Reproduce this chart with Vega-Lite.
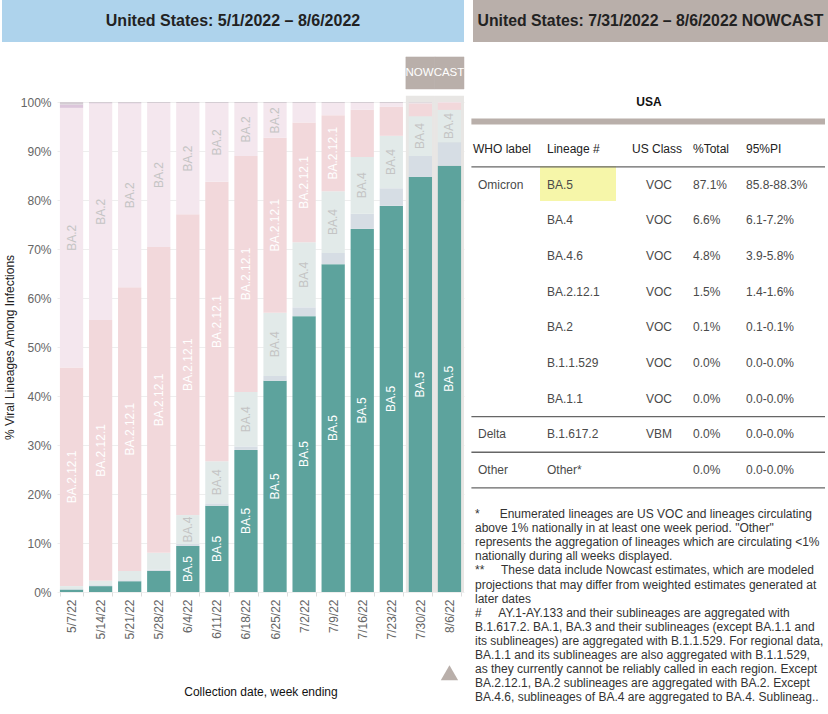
{
  "$schema": "https://vega.github.io/schema/vega-lite/v6.json",
  "padding": {"left": 2, "top": 0, "right": 0, "bottom": 0},
  "background": "white",
  "config": {"font": "Liberation Sans", "view": {"stroke": null}},
  "datasets": {
    "lineages": [
      {"week": "5/7/22", "lineage": "BA.5", "pct": 0.5}, {"week": "5/7/22", "lineage": "BA.4.6", "pct": 0.1}, {"week": "5/7/22", "lineage": "BA.4", "pct": 0.6}, {"week": "5/7/22", "lineage": "BA.2.12.1", "pct": 44.6}, {"week": "5/7/22", "lineage": "BA.2", "pct": 53.0}, {"week": "5/7/22", "lineage": "BA.1.1", "pct": 0.7}, {"week": "5/7/22", "lineage": "Other", "pct": 0.5},
      {"week": "5/14/22", "lineage": "BA.5", "pct": 1.2}, {"week": "5/14/22", "lineage": "BA.4.6", "pct": 0.2}, {"week": "5/14/22", "lineage": "BA.4", "pct": 0.9}, {"week": "5/14/22", "lineage": "BA.2.12.1", "pct": 53.2}, {"week": "5/14/22", "lineage": "BA.2", "pct": 44.2}, {"week": "5/14/22", "lineage": "BA.1.1", "pct": 0.1}, {"week": "5/14/22", "lineage": "Other", "pct": 0.2},
      {"week": "5/21/22", "lineage": "BA.5", "pct": 2.2}, {"week": "5/21/22", "lineage": "BA.4.6", "pct": 0.2}, {"week": "5/21/22", "lineage": "BA.4", "pct": 1.9}, {"week": "5/21/22", "lineage": "BA.2.12.1", "pct": 57.9}, {"week": "5/21/22", "lineage": "BA.2", "pct": 37.5}, {"week": "5/21/22", "lineage": "BA.1.1", "pct": 0.1}, {"week": "5/21/22", "lineage": "Other", "pct": 0.2},
      {"week": "5/28/22", "lineage": "BA.5", "pct": 4.3}, {"week": "5/28/22", "lineage": "BA.4.6", "pct": 0.3}, {"week": "5/28/22", "lineage": "BA.4", "pct": 3.4}, {"week": "5/28/22", "lineage": "BA.2.12.1", "pct": 62.4}, {"week": "5/28/22", "lineage": "BA.2", "pct": 29.4}, {"week": "5/28/22", "lineage": "Other", "pct": 0.2},
      {"week": "6/4/22", "lineage": "BA.5", "pct": 9.4}, {"week": "6/4/22", "lineage": "BA.4.6", "pct": 0.4}, {"week": "6/4/22", "lineage": "BA.4", "pct": 5.9}, {"week": "6/4/22", "lineage": "BA.2.12.1", "pct": 61.4}, {"week": "6/4/22", "lineage": "BA.2", "pct": 22.7}, {"week": "6/4/22", "lineage": "Other", "pct": 0.2},
      {"week": "6/11/22", "lineage": "BA.5", "pct": 17.6}, {"week": "6/11/22", "lineage": "BA.4.6", "pct": 0.5}, {"week": "6/11/22", "lineage": "BA.4", "pct": 8.6}, {"week": "6/11/22", "lineage": "BA.2.12.1", "pct": 57.0}, {"week": "6/11/22", "lineage": "BA.2", "pct": 16.1}, {"week": "6/11/22", "lineage": "Other", "pct": 0.2},
      {"week": "6/18/22", "lineage": "BA.5", "pct": 29.0}, {"week": "6/18/22", "lineage": "BA.4.6", "pct": 0.7}, {"week": "6/18/22", "lineage": "BA.4", "pct": 11.1}, {"week": "6/18/22", "lineage": "BA.2.12.1", "pct": 48.2}, {"week": "6/18/22", "lineage": "BA.2", "pct": 10.8}, {"week": "6/18/22", "lineage": "Other", "pct": 0.2},
      {"week": "6/25/22", "lineage": "BA.5", "pct": 43.1}, {"week": "6/25/22", "lineage": "BA.4.6", "pct": 1.0}, {"week": "6/25/22", "lineage": "BA.4", "pct": 12.9}, {"week": "6/25/22", "lineage": "BA.2.12.1", "pct": 35.7}, {"week": "6/25/22", "lineage": "BA.2", "pct": 7.1}, {"week": "6/25/22", "lineage": "Other", "pct": 0.2},
      {"week": "7/2/22", "lineage": "BA.5", "pct": 56.3}, {"week": "7/2/22", "lineage": "BA.4.6", "pct": 1.8}, {"week": "7/2/22", "lineage": "BA.4", "pct": 13.3}, {"week": "7/2/22", "lineage": "BA.2.12.1", "pct": 24.4}, {"week": "7/2/22", "lineage": "BA.2", "pct": 4.0}, {"week": "7/2/22", "lineage": "Other", "pct": 0.2},
      {"week": "7/9/22", "lineage": "BA.5", "pct": 66.9}, {"week": "7/9/22", "lineage": "BA.4.6", "pct": 2.3}, {"week": "7/9/22", "lineage": "BA.4", "pct": 12.6}, {"week": "7/9/22", "lineage": "BA.2.12.1", "pct": 15.5}, {"week": "7/9/22", "lineage": "BA.2", "pct": 2.5}, {"week": "7/9/22", "lineage": "Other", "pct": 0.2},
      {"week": "7/16/22", "lineage": "BA.5", "pct": 74.1}, {"week": "7/16/22", "lineage": "BA.4.6", "pct": 3.1}, {"week": "7/16/22", "lineage": "BA.4", "pct": 11.6}, {"week": "7/16/22", "lineage": "BA.2.12.1", "pct": 9.6}, {"week": "7/16/22", "lineage": "BA.2", "pct": 1.4}, {"week": "7/16/22", "lineage": "Other", "pct": 0.2},
      {"week": "7/23/22", "lineage": "BA.5", "pct": 78.8}, {"week": "7/23/22", "lineage": "BA.4.6", "pct": 3.6}, {"week": "7/23/22", "lineage": "BA.4", "pct": 10.7}, {"week": "7/23/22", "lineage": "BA.2.12.1", "pct": 5.9}, {"week": "7/23/22", "lineage": "BA.2", "pct": 0.8}, {"week": "7/23/22", "lineage": "Other", "pct": 0.2},
      {"week": "7/30/22", "lineage": "BA.5", "pct": 84.7}, {"week": "7/30/22", "lineage": "BA.4.6", "pct": 4.3}, {"week": "7/30/22", "lineage": "BA.4", "pct": 8.1}, {"week": "7/30/22", "lineage": "BA.2.12.1", "pct": 2.6}, {"week": "7/30/22", "lineage": "BA.2", "pct": 0.2}, {"week": "7/30/22", "lineage": "Other", "pct": 0.1},
      {"week": "8/6/22", "lineage": "BA.5", "pct": 87.0}, {"week": "8/6/22", "lineage": "BA.4.6", "pct": 4.8}, {"week": "8/6/22", "lineage": "BA.4", "pct": 6.6}, {"week": "8/6/22", "lineage": "BA.2.12.1", "pct": 1.5}, {"week": "8/6/22", "lineage": "BA.2", "pct": 0.1}
    ],
    "nowcastWeeks": [{"week": "7/30/22"}, {"week": "8/6/22"}],
    "table": [
      {"row": 0, "col": 1, "text": "WHO label", "kind": "head"},
      {"row": 0, "col": 2, "text": "Lineage #", "kind": "head"},
      {"row": 0, "col": 3, "text": "US Class", "kind": "head"},
      {"row": 0, "col": 4, "text": "%Total", "kind": "head"},
      {"row": 0, "col": 5, "text": "95%PI", "kind": "head"},
      {"row": 1, "col": 1.5, "text": "Omicron", "kind": "body"},
      {"row": 1, "col": 2, "text": "BA.5", "kind": "lineage"},
      {"row": 1, "col": 3.5, "text": "VOC", "kind": "body"},
      {"row": 1, "col": 4, "text": "87.1%", "kind": "body"},
      {"row": 1, "col": 5, "text": "85.8-88.3%", "kind": "body"},
      {"row": 2, "col": 2, "text": "BA.4", "kind": "lineage"},
      {"row": 2, "col": 3.5, "text": "VOC", "kind": "body"},
      {"row": 2, "col": 4, "text": "6.6%", "kind": "body"},
      {"row": 2, "col": 5, "text": "6.1-7.2%", "kind": "body"},
      {"row": 3, "col": 2, "text": "BA.4.6", "kind": "lineage"},
      {"row": 3, "col": 3.5, "text": "VOC", "kind": "body"},
      {"row": 3, "col": 4, "text": "4.8%", "kind": "body"},
      {"row": 3, "col": 5, "text": "3.9-5.8%", "kind": "body"},
      {"row": 4, "col": 2, "text": "BA.2.12.1", "kind": "lineage"},
      {"row": 4, "col": 3.5, "text": "VOC", "kind": "body"},
      {"row": 4, "col": 4, "text": "1.5%", "kind": "body"},
      {"row": 4, "col": 5, "text": "1.4-1.6%", "kind": "body"},
      {"row": 5, "col": 2, "text": "BA.2", "kind": "lineage"},
      {"row": 5, "col": 3.5, "text": "VOC", "kind": "body"},
      {"row": 5, "col": 4, "text": "0.1%", "kind": "body"},
      {"row": 5, "col": 5, "text": "0.1-0.1%", "kind": "body"},
      {"row": 6, "col": 2, "text": "B.1.1.529", "kind": "lineage"},
      {"row": 6, "col": 3.5, "text": "VOC", "kind": "body"},
      {"row": 6, "col": 4, "text": "0.0%", "kind": "body"},
      {"row": 6, "col": 5, "text": "0.0-0.0%", "kind": "body"},
      {"row": 7, "col": 2, "text": "BA.1.1", "kind": "lineage"},
      {"row": 7, "col": 3.5, "text": "VOC", "kind": "body"},
      {"row": 7, "col": 4, "text": "0.0%", "kind": "body"},
      {"row": 7, "col": 5, "text": "0.0-0.0%", "kind": "body"},
      {"row": 8, "col": 1.5, "text": "Delta", "kind": "body"},
      {"row": 8, "col": 2, "text": "B.1.617.2", "kind": "lineage"},
      {"row": 8, "col": 3.5, "text": "VBM", "kind": "body"},
      {"row": 8, "col": 4, "text": "0.0%", "kind": "body"},
      {"row": 8, "col": 5, "text": "0.0-0.0%", "kind": "body"},
      {"row": 9, "col": 1.5, "text": "Other", "kind": "body"},
      {"row": 9, "col": 2, "text": "Other*", "kind": "lineage"},
      {"row": 9, "col": 4, "text": "0.0%", "kind": "body"},
      {"row": 9, "col": 5, "text": "0.0-0.0%", "kind": "body"}
    ],
    "separators": [{"after": 0}, {"after": 7}, {"after": 8}, {"after": 9}],
    "notes": [
      {"lines": [
        "*\u00a0\u00a0\u00a0\u00a0\u00a0\u00a0Enumerated lineages are US VOC and lineages circulating",
        "above 1% nationally in at least one week period. \"Other\"",
        "represents the aggregation of lineages which are circulating <1%",
        "nationally during all weeks displayed.",
        "**\u00a0\u00a0\u00a0\u00a0\u00a0These data include Nowcast estimates, which are modeled",
        "projections that may differ from weighted estimates generated at",
        "later dates",
        "#\u00a0\u00a0\u00a0\u00a0\u00a0AY.1-AY.133 and their sublineages are aggregated with",
        "B.1.617.2. BA.1, BA.3 and their sublineages (except BA.1.1 and",
        "its sublineages) are aggregated with B.1.1.529. For regional data,",
        "BA.1.1 and its sublineages are also aggregated with B.1.1.529,",
        "as they currently cannot be reliably called in each region. Except",
        "BA.2.12.1, BA.2 sublineages are aggregated with BA.2. Except",
        "BA.4.6, sublineages of BA.4 are aggregated to BA.4. Sublineag.."
      ]}
    ]
  },
  "spacing": 14,
  "vconcat": [
    {
      "spacing": 9,
      "hconcat": [
        {
          "width": 462, "height": 42,
          "view": {"fill": "#AED3EC", "stroke": null},
          "data": {"values": [{"t": "United States: 5/1/2022 – 8/6/2022"}]},
          "mark": {"type": "text", "fontSize": 16, "fontWeight": "bold", "color": "#222222"},
          "encoding": {"text": {"field": "t", "type": "nominal"}}
        },
        {
          "width": 355, "height": 42,
          "view": {"fill": "#B9AFAA", "stroke": null},
          "data": {"values": [{"t": "United States: 7/31/2022 – 8/6/2022 NOWCAST"}]},
          "mark": {"type": "text", "fontSize": 15.8, "fontWeight": "bold", "color": "#222222"},
          "encoding": {"text": {"field": "t", "type": "nominal"}}
        }
      ]
    },
    {
      "spacing": 0,
      "hconcat": [
        {
          "width": 1, "height": 1,
          "data": {"values": [{"t": ""}]},
          "mark": {"type": "text", "text": ""}
        },
        {
          "width": 407, "height": 490,
          "layer": [
            {
              "data": {"name": "nowcastWeeks"},
              "mark": {"type": "bar", "width": {"band": 1.25}, "color": "#E8E6E4"},
              "encoding": {
                "x": {"field": "week", "type": "nominal", "scale": {"domain": ["5/7/22","5/14/22","5/21/22","5/28/22","6/4/22","6/11/22","6/18/22","6/25/22","7/2/22","7/9/22","7/16/22","7/23/22","7/30/22","8/6/22"], "paddingInner": 0.2, "paddingOuter": 0.1},
                  "axis": {"title": "Collection date, week ending", "labelAngle": 270, "labelColor": "#666666", "labelFontSize": 12, "labelPadding": 3, "tickBand": "extent", "tickColor": "#dddddd", "tickSize": 4, "domain": false, "titleFontWeight": "normal", "titleFontSize": 12, "titleColor": "#111111", "titlePadding": 47}},
                "y": {"datum": 101.3, "type": "quantitative", "scale": {"domain": [0, 100], "nice": false},
                  "axis": {"values": [0,10,20,30,40,50,60,70,80,90,100], "labelExpr": "datum.value + '%'", "grid": true, "gridColor": "#eeeeee", "domain": false, "ticks": false, "labelColor": "#666666", "labelFontSize": 12, "labelPadding": 6, "title": "% Viral Lineages Among Infections", "titleFontWeight": "normal", "titleFontSize": 12, "titleColor": "#222222", "titlePadding": 4}},
                "y2": {"datum": 0}
              }
            },
            {
              "data": {"name": "nowcastWeeks"},
              "mark": {"type": "bar", "width": {"band": 1.25}, "color": "#B9AFAA", "stroke": "#B9AFAA", "strokeWidth": 0.5},
              "encoding": {
                "x": {"field": "week", "type": "nominal"},
                "y": {"datum": 109.2, "type": "quantitative", "scale": {"domain": [0, 100], "nice": false}},
                "y2": {"datum": 102.65}
              }
            },
            {
              "data": {"values": [{"week": "7/30/22", "label": "NOWCAST"}]},
              "mark": {"type": "text", "color": "white", "fontSize": 11.5, "align": "center", "baseline": "middle"},
              "encoding": {
                "x": {"field": "week", "type": "nominal", "bandPosition": 1.125},
                "y": {"datum": 105.9, "type": "quantitative", "scale": {"domain": [0, 100], "nice": false}},
                "text": {"field": "label", "type": "nominal"}
              }
            },
            {
              "data": {"name": "lineages"},
              "transform": [
                {"calculate": "indexof(['BA.5','BA.4.6','BA.4','BA.2.12.1','BA.2','BA.1.1','Other'], datum.lineage)", "as": "ord"},
                {"stack": "pct", "groupby": ["week"], "sort": [{"field": "ord", "order": "ascending"}], "as": ["y0", "y1"]},
                {"calculate": "(datum.y0 + datum.y1) / 2", "as": "ymid"}
              ],
              "layer": [
                {
                  "mark": {"type": "bar"},
                  "encoding": {
                    "x": {"field": "week", "type": "nominal"},
                    "y": {"field": "y0", "type": "quantitative", "scale": {"domain": [0, 100], "nice": false}},
                    "y2": {"field": "y1"},
                    "color": {"field": "lineage", "type": "nominal", "legend": null,
                      "scale": {"domain": ["BA.5","BA.4.6","BA.4","BA.2.12.1","BA.2","BA.1.1","Other"], "range": ["#5DA39D","#D6DDE4","#E2EAE9","#F2D8DB","#F4E7EE","#DCC6DB","#D4CDD3"]}}
                  }
                },
                {
                  "transform": [{"filter": "(datum.lineage == 'BA.2.12.1' && datum.pct >= 10) || ((datum.lineage == 'BA.5' || datum.lineage == 'BA.4' || datum.lineage == 'BA.2') && datum.pct >= 5)"}],
                  "mark": {"type": "text", "angle": 270, "fontSize": 12, "align": "center", "baseline": "middle"},
                  "encoding": {
                    "x": {"field": "week", "type": "nominal"},
                    "y": {"field": "ymid", "type": "quantitative", "scale": {"domain": [0, 100], "nice": false}},
                    "text": {"field": "lineage", "type": "nominal"},
                    "color": {"condition": {"test": "datum.lineage == 'BA.5' || datum.lineage == 'BA.2.12.1'", "value": "#ffffff"}, "value": "#c4c4c4"}
                  }
                }
              ]
            },
            {
              "data": {"values": [{"week": "8/6/22"}]},
              "mark": {"type": "point", "shape": "triangle-up", "filled": true, "size": 300, "color": "#B9AFAA", "opacity": 1},
              "encoding": {
                "x": {"field": "week", "type": "nominal"},
                "y": {"datum": -16.5, "type": "quantitative", "scale": {"domain": [0, 100], "nice": false}}
              }
            }
          ]
        },
        {
          "width": 360, "height": 611,
          "layer": [
            {
              "data": {"values": [{"cell": "BA.5"}]},
              "mark": {"type": "rect", "color": "#F6F6A9", "xOffset": -7, "x2Offset": 69},
              "encoding": {
                "x": {"datum": 2, "type": "quantitative", "axis": null, "scale": {"domain": [0, 1, 1.5, 2, 3, 3.5, 4, 5, 6], "range": [0, 8, 13, 82, 167, 181, 228, 281, 360], "nice": false, "zero": false}},
                "x2": {"datum": 2},
                "y": {"datum": 0.477, "type": "quantitative", "axis": null, "scale": {"domain": [-1.318, 15.81], "reverse": true, "nice": false, "zero": false}},
                "y2": {"datum": 1.458}
              }
            },
            {
              "data": {"name": "separators"},
              "transform": [{"calculate": "datum.after + 0.5", "as": "sep"}],
              "mark": {"type": "rule", "color": "#666666", "strokeWidth": 1.3},
              "encoding": {
                "x": {"datum": 0.8, "type": "quantitative"},
                "x2": {"datum": 6},
                "y": {"field": "sep", "type": "quantitative", "axis": null}
              }
            },
            {
              "data": {"values": [{"t": "USA"}]},
              "mark": {"type": "rule", "color": "#B9AFAA", "strokeWidth": 6},
              "encoding": {
                "x": {"datum": 0.8, "type": "quantitative"},
                "x2": {"datum": 6},
                "y": {"datum": -0.77, "type": "quantitative"}
              }
            },
            {
              "data": {"values": [{"t": "USA"}]},
              "mark": {"type": "text", "fontSize": 12, "fontWeight": "bold", "color": "#111111", "baseline": "middle", "dx": 4},
              "encoding": {
                "y": {"datum": -1.32, "type": "quantitative"},
                "text": {"field": "t", "type": "nominal"}
              }
            },
            {
              "data": {"name": "table"},
              "mark": {"type": "text", "fontSize": 12, "align": "left", "baseline": "middle"},
              "encoding": {
                "x": {"field": "col", "type": "quantitative"},
                "y": {"field": "row", "type": "quantitative"},
                "text": {"field": "text", "type": "nominal"},
                "color": {"condition": {"test": "datum.kind == 'head'", "value": "#222222"}, "value": "#4a4a4a"}
              }
            },
            {
              "data": {"name": "notes"},
              "mark": {"type": "text", "fontSize": 12, "align": "left", "baseline": "alphabetic", "lineHeight": 14.1, "color": "#333333", "dx": 2},
              "encoding": {
                "x": {"datum": 1, "type": "quantitative"},
                "y": {"datum": 10.345, "type": "quantitative"},
                "text": {"field": "lines", "type": "nominal"}
              }
            }
          ]
        }
      ]
    }
  ]
}
